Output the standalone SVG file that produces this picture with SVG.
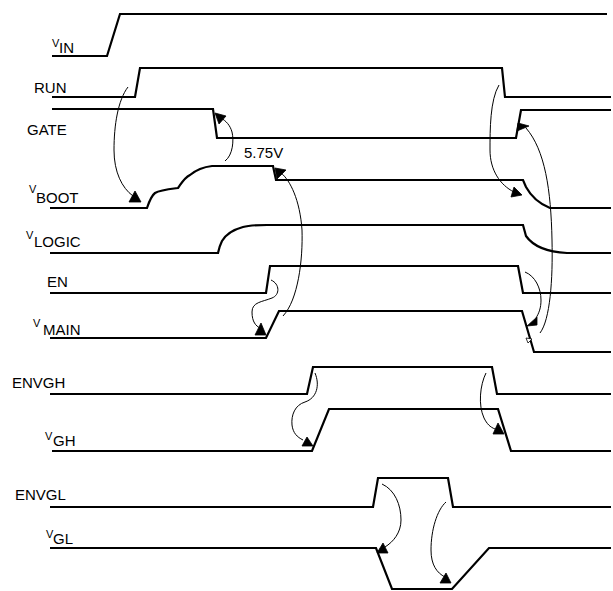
<svg xmlns="http://www.w3.org/2000/svg" width="613" height="591" viewBox="0 0 613 591">
<style>
.sig{fill:none;stroke:#000;stroke-width:2.2;stroke-linejoin:miter}
.lbl{font-family:"Liberation Sans",Arial,sans-serif;font-size:15px;fill:#000}
.v{font-size:11px}
.cur{fill:none;stroke:#000;stroke-width:1}
.ah{fill:#000;stroke:#000;stroke-width:0.8;stroke-linejoin:round}
.ah2{fill:#fff;stroke:#000;stroke-width:0.8}
</style>
<rect width="613" height="591" fill="#fff"/>
<g id="VIN">
<path class="sig" d="M52,56 H107 L120,14 H607"/>
<text class="lbl"><tspan class="v" x="52" y="47">V</tspan><tspan x="59" y="53">IN</tspan></text>
</g>
<g id="RUN">
<path class="sig" d="M52,97 H135 L140,68 H502 L505,97 H611"/>
<text class="lbl" x="34" y="93">RUN</text>
</g>
<g id="GATE">
<path class="sig" d="M52,109 H213 L217,138 H516 L521,110 H611"/>
<text class="lbl" x="27" y="135">GATE</text>
</g>
<g id="VBOOT">
<path class="sig" d="M50,208 H147 C149,202 151,196 155,193 C160,190 170,189 178,188 C181,184 184,178 190,175 C196,170 203,167 212,166 H273 L276,180 H523 L526,187 C532,198 540,204 550,208 H611"/>
<text class="lbl"><tspan class="v" x="29" y="193">V</tspan><tspan x="36" y="203">BOOT</tspan></text>
</g>
<g id="VLOGIC">
<path class="sig" d="M50,253 H218 C219,248 220,245 222,241 C226,234 232,230 243,227 C250,225 258,225 267,225 H523 L526,236 C533,246 548,252 567,253 H611"/>
<text class="lbl"><tspan class="v" x="26" y="239">V</tspan><tspan x="34" y="247">LOGIC</tspan></text>
</g>
<g id="EN">
<path class="sig" d="M50,293 H266 L270,266 H518 L523,293 H611"/>
<text class="lbl" x="47" y="287">EN</text>
</g>
<g id="VMAIN">
<path class="sig" d="M50,338 H266 L279,311 H522 L534,352 H611"/>
<text class="lbl"><tspan class="v" x="33" y="327">V</tspan><tspan x="43" y="335">MAIN</tspan></text>
</g>
<g id="ENVGH">
<path class="sig" d="M50,394 H307 L313,367 H492 L497,394 H611"/>
<text class="lbl" x="12" y="388">ENVGH</text>
</g>
<g id="VGH">
<path class="sig" d="M52,451 H312 L329,409 H498 L511,451 H611"/>
<text class="lbl"><tspan class="v" x="45" y="440">V</tspan><tspan x="53" y="446">GH</tspan></text>
</g>
<g id="ENVGL">
<path class="sig" d="M50,507 H373 L378,478 H448 L453,507 H611"/>
<text class="lbl" x="15" y="500">ENVGL</text>
</g>
<g id="VGL">
<path class="sig" d="M50,548 H376 L392,589 H452 L489,548 H611"/>
<text class="lbl"><tspan class="v" x="46" y="538">V</tspan><tspan x="53" y="544">GL</tspan></text>
</g>
<text id="label-575" class="lbl" x="244" y="158">5.75V</text>
<g id="connectors">
<path class="cur" d="M128,87 C118,100 114,125 114,150 C114,172 122,188 133,196"/>
<polygon class="ah" points="135,191 141,202 129,202"/>
<path class="cur" d="M225,161 C233,155 234,140 232,132 C230,125 226,121 221,118"/>
<polygon class="ah" points="215,113 226,116 219,124"/>
<path class="cur" d="M283,316 C298,300 303,260 302,230 C300,200 290,180 281,173"/>
<polygon class="ah" points="275,168 286,170 277,179"/>
<path class="cur" d="M271,280 C280,284 280,295 272,298 C262,302 252,302 252,312 C252,322 256,326 260,328"/>
<polygon class="ah" points="261,323 266,335 255,335"/>
<path class="cur" d="M499,85 C490,100 490,130 490,150 C490,170 500,185 514,192"/>
<polygon class="ah" points="514,187 522,195 511,197"/>
<path class="cur" d="M540,333 C550,320 553,280 552,240 C551,190 545,150 526,128"/>
<polygon class="ah" points="518,123 529,126 517,131"/>
<path class="cur" d="M525,272 C535,276 541,288 541,300 C541,308 539,313 536,318"/>
<polygon class="ah" points="537,317 537,325 527,326"/>
<polygon class="ah2" points="526,338 532,339 528,343"/>
<path class="cur" d="M315,373 C320,385 317,398 305,402 C295,405 291,415 292,425 C293,433 297,437 303,440"/>
<polygon class="ah" points="307,437 313,446 302,446"/>
<path class="cur" d="M486,373 C480,385 478,405 484,418 C487,424 490,427 495,429"/>
<polygon class="ah" points="498,423 504,434 493,434"/>
<path class="cur" d="M382,484 C395,490 401,505 401,520 C401,533 393,542 385,547"/>
<polygon class="ah" points="383,543 388,553 377,553"/>
<path class="cur" d="M446,502 C437,510 431,530 431,550 C431,565 437,573 445,577"/>
<polygon class="ah" points="446,573 451,583 440,583"/>
</g>
</svg>
